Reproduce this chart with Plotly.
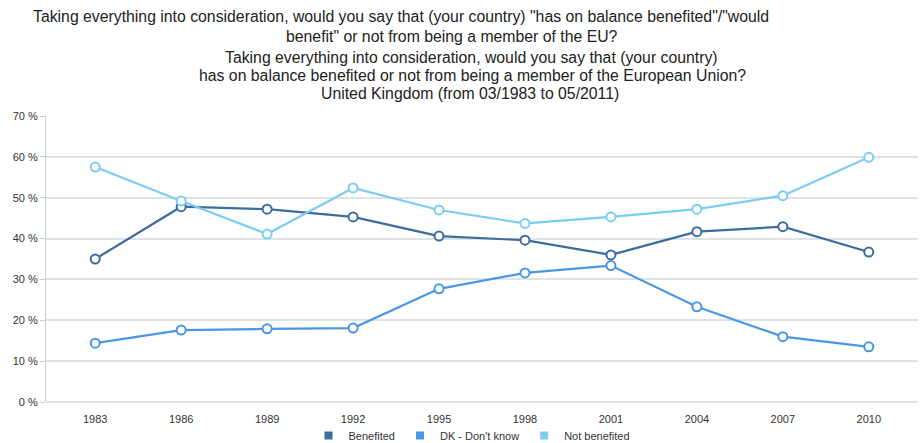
import plotly.graph_objects as go

years = ["1983", "1986", "1989", "1992", "1995", "1998", "2001", "2004", "2007", "2010"]
benefited = [35.0, 47.8, 47.2, 45.3, 40.6, 39.6, 36.0, 41.7, 42.9, 36.7]
dont_know = [14.4, 17.6, 17.9, 18.1, 27.7, 31.6, 33.4, 23.3, 16.0, 13.5]
not_benefited = [57.5, 49.2, 41.1, 52.4, 47.0, 43.7, 45.3, 47.2, 50.5, 59.9]

series = [
    ("Benefited", benefited, "#3d6d9e"),
    ("DK - Don't know", dont_know, "#4a97e6"),
    ("Not benefited", not_benefited, "#7ccdf2"),
]

title_lines = [
    'Taking everything into consideration, would you say that (your country) "has on balance benefited"/"would',
    'benefit" or not from being a member of the EU?',
    'Taking everything into consideration, would you say that (your country)',
    'has on balance benefited or not from being a member of the European Union?',
    'United Kingdom (from 03/1983 to 05/2011)',
]
title_centers_px = [401, 452, 471, 472, 470]
title_y_px = [17, 37, 57, 75, 93]

W, H = 920, 443
ML, MR, MT, MB = 46, 2, 116, 41

fig = go.Figure()
for name, vals, col in series:
    fig.add_trace(go.Scatter(
        x=years, y=vals, name=name, mode="lines+markers",
        line=dict(color=col, width=2.2),
        marker=dict(symbol="circle", size=9, color="white",
                    line=dict(color=col, width=2)),
        showlegend=False,
    ))
for name, vals, col in series:
    fig.add_trace(go.Scatter(
        x=[None], y=[None], name=name, mode="markers",
        marker=dict(symbol="square", size=8, color=col),
        showlegend=True,
    ))

pw = W - ML - MR
ph = H - MT - MB
for txt, cx, cy in zip(title_lines, title_centers_px, title_y_px):
    fig.add_annotation(
        text=txt, xref="paper", yref="paper",
        x=(cx - ML) / pw, y=(H - MB - cy) / ph,
        xanchor="center", yanchor="middle", showarrow=False,
        font=dict(family="Liberation Sans, Arial, sans-serif", size=15.8, color="#222222"),
    )

fig.update_layout(
    width=W, height=H,
    margin=dict(l=ML, r=MR, t=MT, b=MB, autoexpand=False),
    paper_bgcolor="white", plot_bgcolor="white",
    font=dict(family="Liberation Sans, Arial, sans-serif", size=11, color="#333333"),
    legend=dict(orientation="h", x=(472 - ML) / pw, xanchor="center",
                y=-48 / ph, yanchor="bottom",
                font=dict(size=11, color="#333333"), itemwidth=30,
                tracegroupgap=0, bgcolor="rgba(0,0,0,0)"),
    xaxis=dict(type="category", showgrid=False, showline=False, ticks="outside",
               ticklen=7, tickcolor="rgba(0,0,0,0)",
               tickfont=dict(size=11, color="#333333")),
    yaxis=dict(range=[0, 70], dtick=10, ticksuffix=" %", showgrid=True,
               gridcolor="#dde3e7", gridwidth=1.5, showline=True,
               linecolor="#c8d0d6", linewidth=1, ticks="outside",
               ticklen=5, tickcolor="#c8d0d6", zeroline=True,
               zerolinecolor="#dde3e7", zerolinewidth=1.5,
               tickfont=dict(size=11, color="#333333")),
)

fig.write_html("out.html")
